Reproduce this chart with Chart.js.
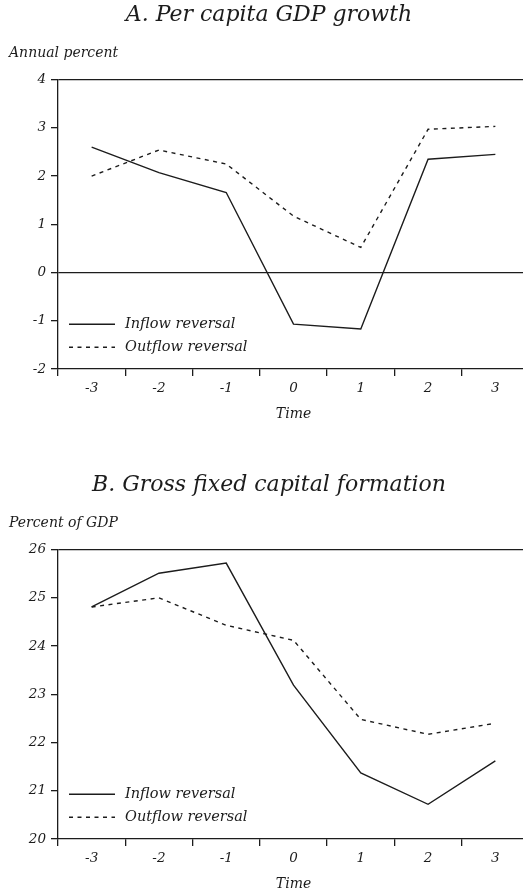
<!DOCTYPE html>
<html>
<head>
<meta charset="utf-8">
<script src="https://cdn.jsdelivr.net/npm/chart.js@4.4.1/dist/chart.umd.min.js"></script>
<style>
  html, body { margin: 0; padding: 0; background: #fff; overflow: hidden; width: 523px; height: 893px; }
  canvas { position: absolute; left: 0; }
  #chartA { top: 0; }
  #chartB { top: 470px; }
</style>
</head>
<body>
<canvas id="chartA" width="529" height="430"></canvas>
<canvas id="chartB" width="529" height="430"></canvas>
<script>
// categories
const periods = ['-3', '-2', '-1', '0', '1', '2', '3'];
const seriesNames = ['Inflow reversal', 'Outflow reversal'];

// panel A: per capita GDP growth (annual percent)
const gdpInflow  = [2.60, 2.07, 1.66, -1.07, -1.17, 2.35, 2.45];
const gdpOutflow = [2.00, 2.54, 2.25, 1.17, 0.52, 2.97, 3.03];
const gdpTicks   = [-2, -1, 0, 1, 2, 3, 4];

// panel B: gross fixed capital formation (percent of GDP)
const gfcfInflow  = [24.81, 25.51, 25.72, 23.19, 21.37, 20.72, 21.62];
const gfcfOutflow = [24.81, 25.00, 24.43, 24.12, 22.48, 22.17, 22.40];
const gfcfTicks   = [20, 21, 22, 23, 24, 25, 26];

const ink = '#1c1c1c';
const serif = '"DejaVu Serif", "Liberation Serif", serif';

// legend drawn inside the plot, lower left
const insideLegend = {
    id: 'insideLegend',
    afterDatasetsDraw(chart) {
        const { ctx, chartArea } = chart;
        const rowOffsets = [44.7, 21.7];
        ctx.save();
        chart.data.datasets.forEach((ds, i) => {
            const y = chartArea.bottom - rowOffsets[i];
            ctx.beginPath();
            ctx.setLineDash(ds.borderDash || []);
            ctx.lineWidth = ds.borderWidth;
            ctx.strokeStyle = ds.borderColor;
            ctx.moveTo(chartArea.left + 11, y);
            ctx.lineTo(chartArea.left + 57, y);
            ctx.stroke();
            ctx.setLineDash([]);
            ctx.fillStyle = ink;
            ctx.font = 'italic 14.5px ' + serif;
            ctx.textBaseline = 'middle';
            ctx.fillText(ds.label, chartArea.left + 67, y);
        });
        ctx.restore();
    }
};

function buildPanel(canvasId, titleText, unitText, inflow, outflow, ticks, ruleValues) {
    const ctx = document.getElementById(canvasId).getContext('2d');
    return new Chart(ctx, {
        type: 'line',
        data: {
            labels: periods,
            datasets: [{
                label: seriesNames[0],
                data: inflow,
                borderColor: ink,
                borderWidth: 1.4,
                pointRadius: 0,
                tension: 0
            }, {
                label: seriesNames[1],
                data: outflow,
                borderColor: ink,
                borderWidth: 1.4,
                borderDash: [4, 4.5],
                pointRadius: 0,
                tension: 0
            }]
        },
        options: {
            responsive: false,
            animation: false,
            layout: { padding: { left: 9, right: 0, top: 0, bottom: 0 } },
            plugins: {
                legend: { display: false },
                tooltip: { enabled: false },
                title: {
                    display: true,
                    text: titleText,
                    color: ink,
                    font: { family: serif, style: 'italic', size: 22, weight: 'normal' },
                    padding: { top: 2, bottom: 8.6 }
                },
                subtitle: {
                    display: true,
                    text: unitText,
                    align: 'start',
                    color: ink,
                    font: { family: serif, style: 'italic', size: 14 },
                    padding: { top: 7.6, bottom: 18.2 }
                }
            },
            scales: {
                x: {
                    offset: true,
                    grid: { offset: true, drawOnChartArea: false, tickLength: 7, color: ink, lineWidth: 1.3 },
                    border: { color: ink, width: 1.3 },
                    ticks: { color: ink, padding: 4, maxRotation: 0, font: { family: serif, style: 'italic', size: 13.5 } },
                    title: {
                        display: true,
                        text: 'Time',
                        color: ink,
                        font: { family: serif, style: 'italic', size: 14 },
                        padding: { top: 0, bottom: 7.6 }
                    },
                    afterFit(scale) { scale.height = 61; }
                },
                y: {
                    min: ticks[0],
                    max: ticks[ticks.length - 1],
                    afterBuildTicks(scale) { scale.ticks = ticks.map(v => ({ value: v })); },
                    grid: {
                        color: c => (c.tick && ruleValues.includes(c.tick.value)) ? ink : 'rgba(0,0,0,0)',
                        tickColor: ink,
                        lineWidth: 1.3,
                        tickLength: 7
                    },
                    border: { color: ink, width: 1.3 },
                    ticks: { color: ink, padding: 5, font: { family: serif, style: 'italic', size: 13.5 } },
                    afterFit(scale) { scale.width = 49; }
                }
            }
        },
        plugins: [insideLegend]
    });
}

buildPanel('chartA', 'A. Per capita GDP growth', 'Annual percent', gdpInflow, gdpOutflow, gdpTicks, [0, 4]);
buildPanel('chartB', 'B. Gross fixed capital formation', 'Percent of GDP', gfcfInflow, gfcfOutflow, gfcfTicks, [26]);
</script>
</body>
</html>
